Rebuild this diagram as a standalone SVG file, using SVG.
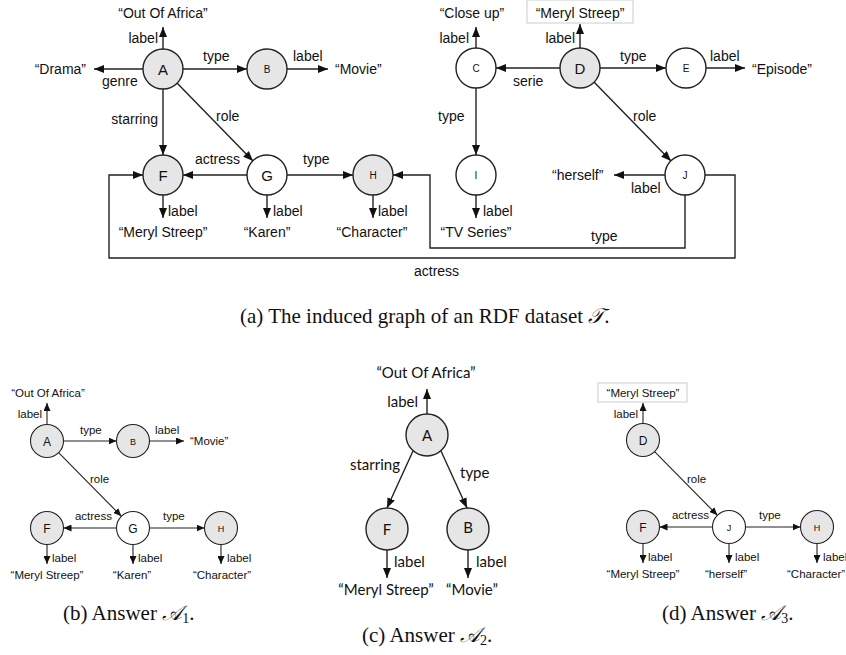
<svg xmlns="http://www.w3.org/2000/svg" width="846" height="655" viewBox="0 0 846 655">
<style>
.t{font-family:"Liberation Sans",Arial,sans-serif;font-size:14px;fill:#111}
.ts{font-family:"Liberation Sans",Arial,sans-serif;font-size:11.5px;fill:#111}
.tc{font-family:Lato,"Open Sans",sans-serif;font-size:15px;fill:#111}
.cap{font-family:"Liberation Serif","Times New Roman",serif;font-size:21px;fill:#111}
.m{font-family:"DejaVu Serif","Noto Sans",serif;font-style:italic}
.n{stroke:#222;stroke-width:1.4;fill:#e6e6e6}
.nw{stroke:#222;stroke-width:1.4;fill:#fff}
.ns{stroke:#222;stroke-width:1.1;fill:#e6e6e6}
.nsw{stroke:#222;stroke-width:1.1;fill:#fff}
.big{font-family:"Liberation Sans",Arial,sans-serif;font-size:15px;text-anchor:middle;fill:#111}
.sm{font-family:"Liberation Sans",Arial,sans-serif;font-size:10px;text-anchor:middle;fill:#111}
.bigs{font-family:"Liberation Sans",Arial,sans-serif;font-size:12px;text-anchor:middle;fill:#111}
.sms{font-family:"Liberation Sans",Arial,sans-serif;font-size:9px;text-anchor:middle;fill:#111}
.e{stroke:#222;stroke-width:1.4;fill:none;marker-end:url(#ah)}
.es{stroke:#222;stroke-width:1.1;fill:none;marker-end:url(#as)}
.mid{text-anchor:middle}
.end{text-anchor:end}
.box{fill:#fff;stroke:#ccc;stroke-width:1}
</style>
<defs>
<marker id="ah" markerUnits="userSpaceOnUse" markerWidth="10" markerHeight="8" refX="10" refY="4" orient="auto"><path d="M0,0 L10,4 L0,8 z" fill="#111"/></marker>
<marker id="as" markerUnits="userSpaceOnUse" markerWidth="8" markerHeight="7" refX="8" refY="3.5" orient="auto"><path d="M0,0 L8,3.5 L0,7 z" fill="#111"/></marker>
</defs>
<rect width="846" height="655" fill="#fff"/>

<!-- (a) connectors -->
<g id="edges-a">
<line class="e" x1="163" y1="49" x2="163" y2="27"/>
<line class="e" x1="143" y1="69" x2="94" y2="69"/>
<line class="e" x1="183" y1="69" x2="247" y2="69"/>
<line class="e" x1="287" y1="69" x2="328" y2="69"/>
<line class="e" x1="163" y1="89" x2="163" y2="155"/>
<line class="e" x1="177" y1="83" x2="253" y2="161"/>
<line class="e" x1="247" y1="175" x2="183" y2="175"/>
<line class="e" x1="287" y1="175" x2="353" y2="175"/>
<line class="e" x1="163" y1="195" x2="163" y2="218"/>
<line class="e" x1="267" y1="195" x2="267" y2="218"/>
<line class="e" x1="373" y1="195" x2="373" y2="218"/>
<polyline class="e" points="705,175 735,175 735,258 109,258 109,175 143,175"/>
<polyline class="e" points="685,195 685,248 430,248 430,175 393,175"/>
<line class="e" x1="476" y1="48" x2="476" y2="27"/>
<line class="e" x1="580" y1="48" x2="580" y2="24"/>
<line class="e" x1="560" y1="68" x2="496" y2="68"/>
<line class="e" x1="600" y1="68" x2="666" y2="68"/>
<line class="e" x1="706" y1="68" x2="745" y2="68"/>
<line class="e" x1="476" y1="88" x2="476" y2="155"/>
<line class="e" x1="594" y1="82" x2="671" y2="161"/>
<line class="e" x1="476" y1="195" x2="476" y2="218"/>
<line class="e" x1="665" y1="175" x2="614" y2="175"/>
<text class="t end" x="158" y="43">label</text>
<text class="t" x="102" y="86">genre</text>
<text class="t" x="203" y="61">type</text>
<text class="t" x="293" y="61">label</text>
<text class="t end" x="158" y="124">starring</text>
<text class="t" x="216" y="121">role</text>
<text class="t end" x="240" y="164">actress</text>
<text class="t" x="303" y="164">type</text>
<text class="t" x="168" y="216">label</text>
<text class="t" x="273" y="216">label</text>
<text class="t" x="378" y="216">label</text>
<text class="t" x="414" y="276">actress</text>
<text class="t" x="591" y="241">type</text>
<text class="t end" x="469" y="43">label</text>
<text class="t end" x="575" y="43">label</text>
<text class="t" x="513" y="86">serie</text>
<text class="t" x="620" y="61">type</text>
<text class="t" x="710" y="61">label</text>
<text class="t" x="438" y="121">type</text>
<text class="t" x="633" y="121">role</text>
<text class="t" x="483" y="216">label</text>
<text class="t" x="631" y="193">label</text>
</g>

<!-- (a) literals -->
<g id="lit-a">
<text class="t mid" x="163" y="18">“Out Of Africa”</text>
<text class="t end" x="86" y="74">“Drama”</text>
<text class="t" x="335" y="74">“Movie”</text>
<text class="t mid" x="163" y="237">“Meryl Streep”</text>
<text class="t mid" x="267" y="237">“Karen”</text>
<text class="t mid" x="372" y="237">“Character”</text>
<text class="t mid" x="472" y="18">“Close up”</text>
<rect class="box" x="527" y="0" width="106" height="23"/>
<text class="t mid" x="580" y="18">“Meryl Streep”</text>
<text class="t" x="752" y="74">“Episode”</text>
<text class="t mid" x="476" y="237">“TV Series”</text>
<text class="t" x="552" y="180">“herself”</text>
</g>

<!-- (a) nodes -->
<g id="a-A"><circle class="n" cx="163" cy="69" r="20"/><text class="big" x="163" y="74.5">A</text></g>
<g id="a-B"><circle class="n" cx="267" cy="69" r="20"/><text class="sm" x="267" y="72.5">B</text></g>
<g id="a-F"><circle class="n" cx="163" cy="175" r="20"/><text class="big" x="163" y="180.5">F</text></g>
<g id="a-G"><circle class="nw" cx="267" cy="175" r="20"/><text class="big" x="267" y="180.5">G</text></g>
<g id="a-H"><circle class="n" cx="373" cy="175" r="20"/><text class="sm" x="373" y="178.5">H</text></g>
<g id="a-C"><circle class="nw" cx="476" cy="68" r="20"/><text class="sm" x="476" y="71.5">C</text></g>
<g id="a-D"><circle class="n" cx="580" cy="68" r="20"/><text class="big" x="580" y="73.5">D</text></g>
<g id="a-E"><circle class="nw" cx="686" cy="68" r="20"/><text class="sm" x="686" y="71.5">E</text></g>
<g id="a-I"><circle class="nw" cx="476" cy="175" r="20"/><text class="sm" x="476" y="178.5">I</text></g>
<g id="a-J"><circle class="nw" cx="685" cy="175" r="20"/><text class="sm" x="685" y="178.5">J</text></g>

<text class="cap" x="240" y="323">(a) The induced graph of an RDF dataset <tspan class="m">𝒯</tspan>.</text>

<!-- (b) -->
<g id="edges-b">
<line class="es" x1="47" y1="424.5" x2="47" y2="403"/>
<line class="es" x1="63.5" y1="441" x2="116.5" y2="441"/>
<line class="es" x1="149.5" y1="441" x2="184" y2="441"/>
<line class="es" x1="58.6" y1="452.7" x2="121.4" y2="516.3"/>
<line class="es" x1="116.5" y1="528" x2="63.5" y2="528"/>
<line class="es" x1="149.5" y1="528" x2="204.5" y2="528"/>
<line class="es" x1="47" y1="544.5" x2="47" y2="564"/>
<line class="es" x1="133" y1="544.5" x2="133" y2="564"/>
<line class="es" x1="221" y1="544.5" x2="221" y2="564"/>
<text class="ts end" x="42" y="418">label</text>
<text class="ts" x="80" y="434">type</text>
<text class="ts" x="155" y="434">label</text>
<text class="ts" x="90" y="483">role</text>
<text class="ts end" x="112" y="520">actress</text>
<text class="ts" x="163" y="520">type</text>
<text class="ts" x="52" y="562">label</text>
<text class="ts" x="138" y="562">label</text>
<text class="ts" x="227" y="562">label</text>
</g>
<g id="lit-b">
<text class="ts mid" x="48" y="397">“Out Of Africa”</text>
<text class="ts" x="190" y="445">“Movie”</text>
<text class="ts mid" x="47" y="579">“Meryl Streep”</text>
<text class="ts mid" x="132" y="579">“Karen”</text>
<text class="ts mid" x="222" y="579">“Character”</text>
</g>
<g id="b-A"><circle class="ns" cx="47" cy="441" r="16.5"/><text class="bigs" x="47" y="445.5">A</text></g>
<g id="b-B"><circle class="ns" cx="133" cy="441" r="16.5"/><text class="sms" x="133" y="444.5">B</text></g>
<g id="b-F"><circle class="ns" cx="47" cy="528" r="16.5"/><text class="bigs" x="47" y="532.5">F</text></g>
<g id="b-G"><circle class="nsw" cx="133" cy="528" r="16.5"/><text class="bigs" x="133" y="532.5">G</text></g>
<g id="b-H"><circle class="ns" cx="221" cy="528" r="16.5"/><text class="sms" x="221" y="531.5">H</text></g>
<text class="cap" x="63" y="620">(b) Answer <tspan class="m">𝒜</tspan><tspan font-size="14" dy="3">1</tspan><tspan dy="-3">.</tspan></text>

<!-- (c) -->
<g id="edges-c">
<line class="e" x1="427" y1="414" x2="427" y2="389"/>
<line class="e" x1="413" y1="451" x2="387" y2="508"/>
<line class="e" x1="441" y1="451" x2="467" y2="508"/>
<line class="e" x1="387" y1="550" x2="387" y2="578"/>
<line class="e" x1="468" y1="550" x2="468" y2="578"/>
<text class="tc end" x="418" y="407">label</text>
<text class="tc end" x="400" y="470">starring</text>
<text class="tc" x="460" y="478">type</text>
<text class="tc" x="394" y="567">label</text>
<text class="tc" x="476" y="567">label</text>
</g>
<g id="lit-c">
<text class="tc mid" x="426" y="378">“Out Of Africa”</text>
<text class="tc mid" x="386" y="595">“Meryl Streep”</text>
<text class="tc mid" x="472" y="595">“Movie”</text>
</g>
<g id="c-A"><circle class="n" cx="427" cy="435" r="21"/><text class="tc mid" x="427" y="441">A</text></g>
<g id="c-F"><circle class="n" cx="387" cy="529" r="21"/><text class="tc mid" x="387" y="535">F</text></g>
<g id="c-B"><circle class="n" cx="468" cy="529" r="21"/><text class="tc mid" x="468" y="533" font-size="11">B</text></g>
<text class="cap" x="362" y="642">(c) Answer <tspan class="m">𝒜</tspan><tspan font-size="14" dy="3">2</tspan><tspan dy="-3">.</tspan></text>

<!-- (d) -->
<g id="edges-d">
<line class="es" x1="643" y1="423.5" x2="643" y2="403"/>
<line class="es" x1="654.6" y1="451.7" x2="717.4" y2="515.3"/>
<line class="es" x1="712.5" y1="527" x2="659.5" y2="527"/>
<line class="es" x1="745.5" y1="527" x2="800.5" y2="527"/>
<line class="es" x1="643" y1="543.5" x2="643" y2="563"/>
<line class="es" x1="729" y1="543.5" x2="729" y2="563"/>
<line class="es" x1="817" y1="543.5" x2="817" y2="563"/>
<text class="ts end" x="638" y="418">label</text>
<text class="ts" x="687" y="483">role</text>
<text class="ts end" x="709" y="519">actress</text>
<text class="ts" x="759" y="519">type</text>
<text class="ts" x="648" y="561">label</text>
<text class="ts" x="735" y="561">label</text>
<text class="ts" x="823" y="561">label</text>
</g>
<g id="lit-d">
<rect class="box" x="598" y="383" width="89" height="19"/>
<text class="ts mid" x="643" y="397">“Meryl Streep”</text>
<text class="ts mid" x="643" y="578">“Meryl Streep”</text>
<text class="ts mid" x="726" y="578">“herself”</text>
<text class="ts" x="787" y="578">“Character”</text>
</g>
<g id="d-D"><circle class="ns" cx="643" cy="440" r="16.5"/><text class="bigs" x="643" y="444.5">D</text></g>
<g id="d-F"><circle class="ns" cx="643" cy="527" r="16.5"/><text class="bigs" x="643" y="531.5">F</text></g>
<g id="d-J"><circle class="nsw" cx="729" cy="527" r="16.5"/><text class="sms" x="729" y="530.5">J</text></g>
<g id="d-H"><circle class="ns" cx="817" cy="527" r="16.5"/><text class="sms" x="817" y="530.5">H</text></g>
<text class="cap" x="662" y="620">(d) Answer <tspan class="m">𝒜</tspan><tspan font-size="14" dy="3">3</tspan><tspan dy="-3">.</tspan></text>
</svg>
